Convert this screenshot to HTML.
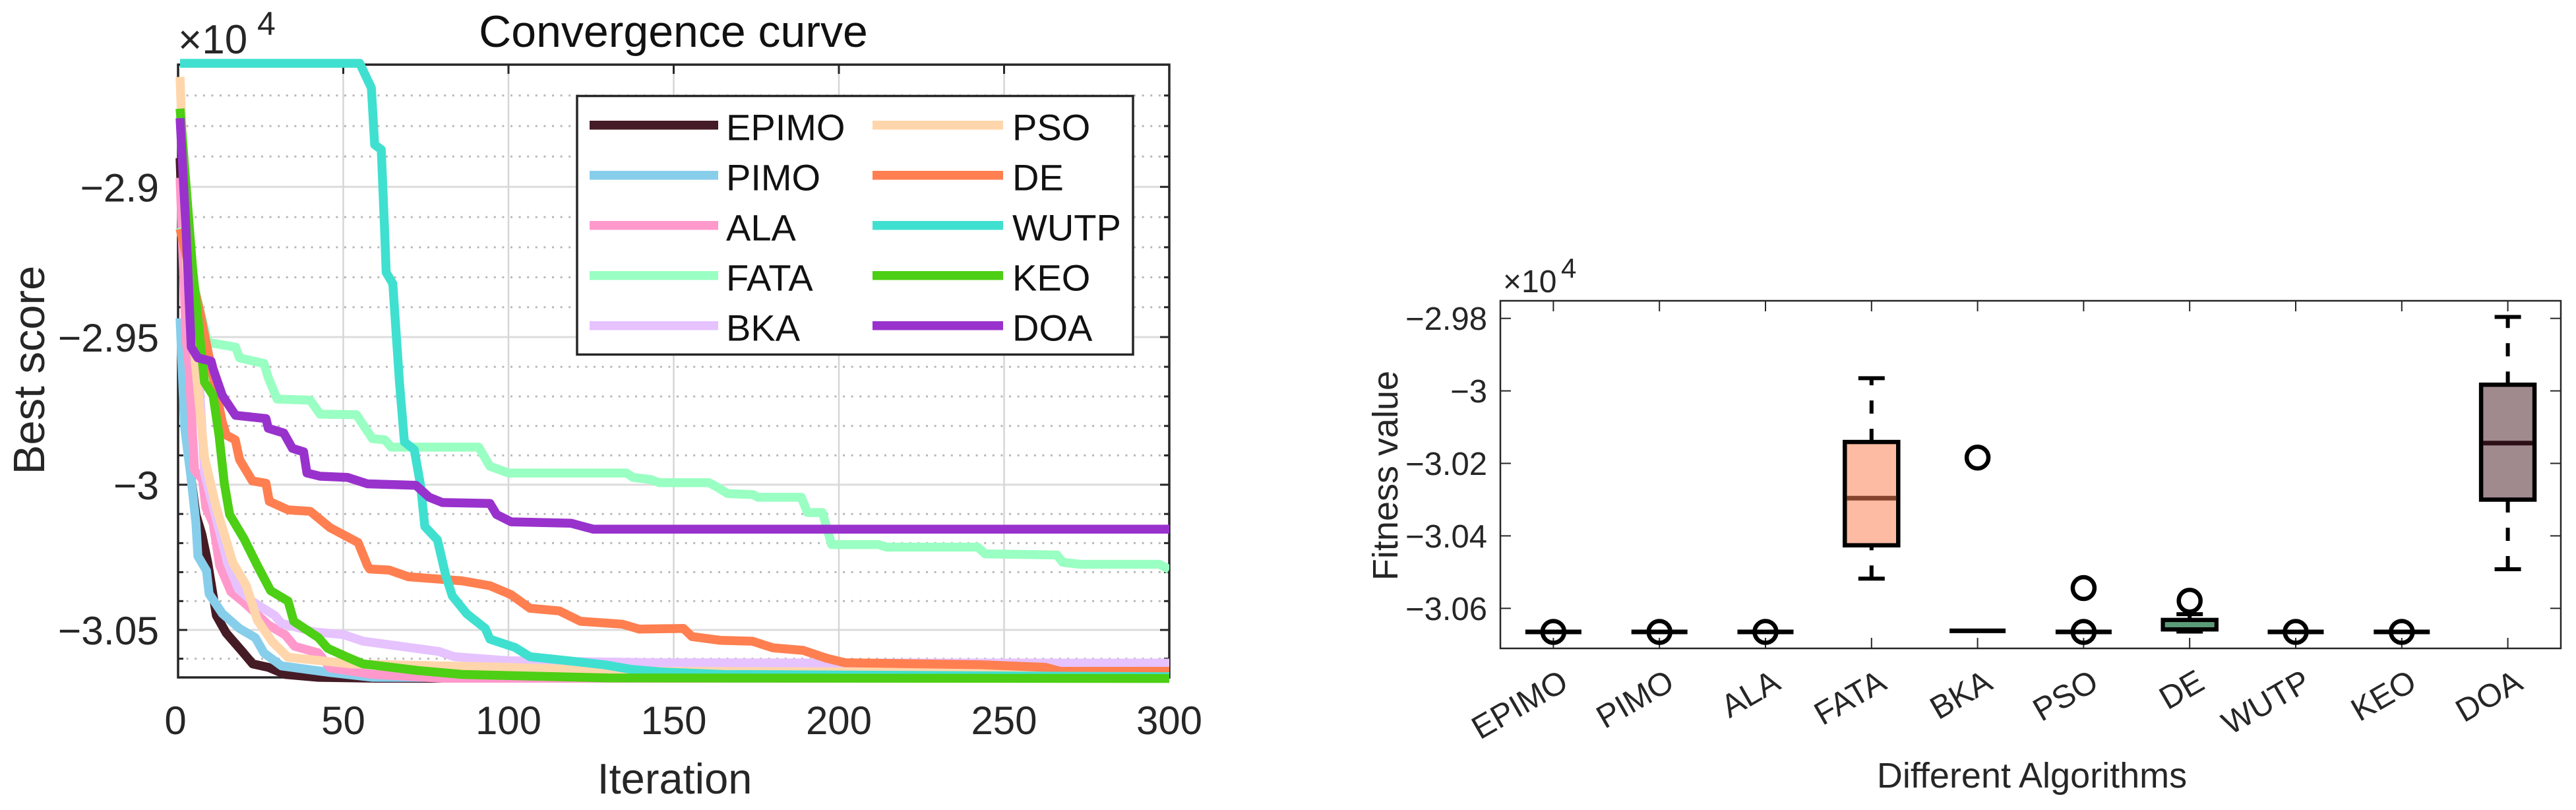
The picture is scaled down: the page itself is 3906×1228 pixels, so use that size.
<!DOCTYPE html>
<html lang="en">
<head>
<meta charset="utf-8">
<title>Convergence curve and fitness boxplot</title>
<style>
html,body{margin:0;padding:0;background:#fff;}
svg{display:block;}
text{font-family:"Liberation Sans",Arial,sans-serif;}
</style>
</head>
<body>
<svg id="figure" xmlns="http://www.w3.org/2000/svg" width="3906" height="1228" viewBox="0 0 3906 1228">
  <rect x="0" y="0" width="3906" height="1228" fill="#ffffff"/>
  <defs>
    <clipPath id="plot-clip"><rect x="255" y="88" width="1518" height="950"/></clipPath>
  </defs>
  <g id="left-chart"></g>
  <g id="right-chart"></g>
</svg>
<script>
/* ---------- Convergence chart data (score in units of 1e4) ---------- */
const algorithmNames = ['EPIMO','PIMO','ALA','FATA','BKA','PSO','DE','WUTP','KEO','DOA'];
const seriesColors = ['#451b26','#87ceeb','#ff99cc','#99ffc2','#e6c2ff','#ffd6ab','#ff7f50','#40e0d0','#4ccf14','#9932cc'];
const iterationTicks = [0,50,100,150,200,250,300];
const scoreTicks = [-2.9,-2.95,-3,-3.05];
const scoreTickLabels = ['\u22122.9','\u22122.95','\u22123','\u22123.05'];
const minorScoreTicks = [-2.87,-2.88,-2.89,-2.91,-2.92,-2.93,-2.94,-2.96,-2.97,-2.98,-2.99,-3.01,-3.02,-3.03,-3.04,-3.06];

const epimoIter  = [0.6,2.5,4,5.4,7.2,9,11.6,14.6,19.3,22.6,27.3,32.5,42.5,60,300];
const epimoScore = [-2.8905,-2.95,-2.9982,-3.0102,-3.017,-3.0268,-3.045,-3.0511,-3.0573,-3.0618,-3.063,-3.0655,-3.0665,-3.0668,-3.0668];

const pimoIter  = [0.6,2,4,5.4,6,8.6,9.4,13.4,18.6,23.4,26,31.3,46,59,300];
const pimoScore = [-2.9437,-2.9806,-2.9982,-3.0132,-3.0245,-3.0295,-3.0375,-3.0443,-3.0495,-3.0527,-3.058,-3.0625,-3.0648,-3.0665,-3.0668];

const alaIter  = [0.6,2.4,3.4,4.4,5,7.4,8.4,10.6,12.6,16,20,27.3,32.5,35.3,42.5,46,59,80,300];
const alaScore = [-2.897,-2.9502,-2.9607,-2.9831,-2.9951,-2.9982,-3.0078,-3.0132,-3.0277,-3.0368,-3.0405,-3.0482,-3.0518,-3.0557,-3.058,-3.0632,-3.0655,-3.0668,-3.0668];

const fataIter  = [0.6,9,17.4,18.6,26,27.3,30,40,43,54,58.8,62.6,64.5,91,94.4,100,135.7,137.7,143,145.7,160.7,163,166.3,174,175.5,188.6,190.5,195,197.8,212,214.4,242,244.3,266,267.7,273,297,300];
const fataScore = [-2.9135,-2.9518,-2.9534,-2.957,-2.9589,-2.9637,-2.9709,-2.9713,-2.976,-2.9762,-2.9843,-2.9847,-2.9872,-2.9872,-2.9937,-2.996,-2.996,-2.9975,-2.9982,-2.9993,-2.9993,-3.0007,-3.003,-3.0034,-3.0043,-3.0043,-3.0095,-3.0095,-3.0205,-3.0205,-3.0214,-3.0214,-3.0237,-3.0241,-3.0266,-3.0273,-3.0273,-3.0291];

const bkaIter  = [0.6,3.4,6.4,8,15,18.3,23,29.3,31.3,41.3,50,56,79,83.6,100,145.7,200,300];
const bkaScore = [-2.8774,-2.9174,-2.9652,-2.996,-3.0268,-3.0359,-3.0405,-3.045,-3.0477,-3.0507,-3.0516,-3.0539,-3.0575,-3.0593,-3.0607,-3.0614,-3.0615,-3.0615];

const psoIter  = [0.6,2.6,5.4,8,11.4,16.6,20.6,24,28.5,33.3,52.5,100,140,200,250,267,300];
const psoScore = [-2.8639,-2.9255,-2.9607,-2.9906,-3.0071,-3.0268,-3.0345,-3.0466,-3.0541,-3.0595,-3.0618,-3.063,-3.0644,-3.0646,-3.0648,-3.0657,-3.0661];

const deIter  = [0.6,6.6,13.4,14.6,17.3,18.6,22.5,26.6,27.6,33.3,40,46,54.5,57.3,58,63.9,69.7,86,94.4,100.8,106.5,115.4,121.8,134.5,139.5,153,155.5,164,173.8,180,189.2,196.2,201.8,243,262.5,267,300];
const deScore = [-2.9139,-2.9415,-2.9787,-2.9831,-2.9847,-2.9914,-2.9987,-2.9995,-3.0057,-3.0086,-3.0091,-3.0147,-3.0198,-3.0277,-3.0289,-3.0293,-3.0316,-3.033,-3.0347,-3.0378,-3.0425,-3.0434,-3.047,-3.048,-3.0497,-3.0495,-3.0523,-3.0536,-3.0539,-3.0562,-3.0571,-3.0598,-3.0614,-3.0621,-3.063,-3.0644,-3.0644];

const wutpIter  = [0.6,55,58.5,59.5,61.5,62.5,63,65,67,68.5,71.5,73.4,74.7,78.5,81,83,87.4,93,94.4,102,106.5,118,129,137,146,165,300];
const wutpScore = [-2.8595,-2.8595,-2.8675,-2.8861,-2.8877,-2.9139,-2.9284,-2.9321,-2.9652,-2.9854,-2.9881,-3.0002,-3.0143,-3.0189,-3.0311,-3.0382,-3.0444,-3.0495,-3.0532,-3.0561,-3.0593,-3.0607,-3.0621,-3.0637,-3.0646,-3.0655,-3.0663];

const keoIter  = [0.6,4.4,8,10.6,12.4,14,15.6,20,24,28,33.3,35,42.5,45.3,51.3,56,72.5,86,130,300];
const keoScore = [-2.8743,-2.927,-2.9652,-2.9697,-2.9831,-2.9995,-3.0102,-3.0186,-3.0277,-3.0364,-3.04,-3.047,-3.0527,-3.0564,-3.0595,-3.0618,-3.0641,-3.0655,-3.0667,-3.0669];

const doaIter  = [0.6,2.4,4,6,10,10.6,13.4,17.4,26.6,27.3,32,34.6,38,39,43,51.3,57.3,72,76,80,94.4,96.4,100.8,119,125.6,300];
const doaScore = [-2.8774,-2.9139,-2.9534,-2.957,-2.9581,-2.9607,-2.9697,-2.9764,-2.9775,-2.9808,-2.9824,-2.9876,-2.9888,-2.996,-2.9971,-2.9975,-2.9997,-3.0002,-3.0043,-3.0061,-3.0064,-3.0102,-3.0127,-3.0132,-3.0152,-3.0152];

const seriesIters  = [epimoIter,pimoIter,alaIter,fataIter,bkaIter,psoIter,deIter,wutpIter,keoIter,doaIter];
const seriesScores = [epimoScore,pimoScore,alaScore,fataScore,bkaScore,psoScore,deScore,wutpScore,keoScore,doaScore];

/* ---------- Boxplot data (fitness in units of 1e4) ---------- */
const fitnessTicks = [-2.98,-3,-3.02,-3.04,-3.06];
const fitnessTickLabels = ['\u22122.98','\u22123','\u22123.02','\u22123.04','\u22123.06'];
const boxUpperQuartile = [-3.0665,-3.0665,-3.0665,-3.0141,-3.0662,-3.0665,-3.0632,-3.0665,-3.0665,-2.9983];
const boxMedian        = [-3.0665,-3.0665,-3.0665,-3.0296,-3.0662,-3.0665,-3.0645,-3.0665,-3.0665,-3.0144];
const boxLowerQuartile = [-3.0665,-3.0665,-3.0665,-3.0426,-3.0662,-3.0665,-3.0658,-3.0665,-3.0665,-3.03];
const whiskerHigh      = [-3.0665,-3.0665,-3.0665,-2.9965,-3.0662,-3.0665,-3.0616,-3.0665,-3.0665,-2.9796];
const whiskerLow       = [-3.0665,-3.0665,-3.0665,-3.0518,-3.0662,-3.0665,-3.0664,-3.0665,-3.0665,-3.0492];
const outlierValues    = [[-3.0665],[-3.0665],[-3.0665],[],[-3.0184],[-3.0665,-3.0544],[-3.0579],[-3.0665],[-3.0665],[]];
const boxFills    = ['#ffffff','#ffffff','#ffffff','#fdbba3','#ffffff','#ffffff','#74b08e','#ffffff','#ffffff','#a08a8e'];
const medianColors = ['#000000','#000000','#000000','#84432c','#000000','#000000','#5a9c78','#000000','#000000','#2c0f17'];

/* ---------- Helpers ---------- */
const NS = 'http://www.w3.org/2000/svg';
const INK = '#262626';
function make(tag, parent, geometry) {
  const el = document.createElementNS(NS, tag);
  for (const k in geometry) el.setAttribute(k, geometry[k]);
  parent.appendChild(el);
  return el;
}

/* Axis functions: left chart */
function xIter(i) { return 270 + i * (1773 - 270) / 300; }
function yScore(v) { return 283.3 + 30670 * Math.log10(v / -2.9); }
/* Axis functions: right chart */
function xCat(i) { return 2275 + (i + 0.5) * (3883 - 2275) / 10; }
function yFit(v) { return 482.7 + (-2.98 - v) * 5495; }

/* ---------- Draw left chart ---------- */
(function () {
  const g = document.getElementById('left-chart');
  const L = 270, R = 1773, T = 98, B = 1027;

  minorScoreTicks.forEach(function (v) {
    const line = make('line', g, {x1:L, x2:R, y1:yScore(v), y2:yScore(v), stroke:'#b8b8b8', 'stroke-width':3, 'stroke-dasharray':'3 9.6'});
    
    
  });
  scoreTicks.forEach(function (v) {
    const line = make('line', g, {x1:L, x2:R, y1:yScore(v), y2:yScore(v), stroke:'#dcdcdc', 'stroke-width':3});
    
    
  });
  iterationTicks.slice(1, -1).forEach(function (t) {
    const line = make('line', g, {x1:xIter(t), x2:xIter(t), y1:T, y2:B, stroke:'#d6d6d6', 'stroke-width':2.5});
    
    
  });

  const frame = make('rect', g, {x:L, y:T, width:R-L, height:B-T, fill:'none', stroke:INK, 'stroke-width':3.5});
  
  

  iterationTicks.forEach(function (t, i) {
    const top = make('line', g, {x1:xIter(t), x2:xIter(t), y1:T, y2:T+14, stroke:INK, 'stroke-width':3});
    
    
    const bottom = make('line', g, {x1:xIter(t), x2:xIter(t), y1:B, y2:B-14, stroke:INK, 'stroke-width':3});
    
    
    const label = make('text', g, {x:xIter(t) - (i === 0 ? 4 : 0), y:1113, 'text-anchor':'middle', 'font-size':60, fill:INK});
    
    
    label.textContent = String(t);
  });
  scoreTicks.forEach(function (v, i) {
    const a = make('line', g, {x1:L, x2:L+14, y1:yScore(v), y2:yScore(v), stroke:INK, 'stroke-width':3});
    
    
    const b = make('line', g, {x1:R, x2:R-14, y1:yScore(v), y2:yScore(v), stroke:INK, 'stroke-width':3});
    
    
    const label = make('text', g, {x:241, y:yScore(v) + 22, 'text-anchor':'end', 'font-size':60.5, fill:INK});
    
    
    label.textContent = scoreTickLabels[i];
  });
  minorScoreTicks.forEach(function (v) {
    const a = make('line', g, {x1:L, x2:L+8, y1:yScore(v), y2:yScore(v), stroke:INK, 'stroke-width':3});
    
    
    const b = make('line', g, {x1:R, x2:R-8, y1:yScore(v), y2:yScore(v), stroke:INK, 'stroke-width':3});
    
    
  });

  const curves = make('g', g, {'clip-path':'url(#plot-clip)'});
  
  
  algorithmNames.forEach(function (name, s) {
    const pts = seriesIters[s].map(function (t, j) {
      return xIter(t).toFixed(1) + ',' + yScore(seriesScores[s][j]).toFixed(1);
    }).join(' ');
    const line = make('polyline', curves, {points:pts, fill:'none', stroke:seriesColors[s], 'stroke-width':13.5, 'stroke-linejoin':'round', 'stroke-linecap':'butt'});
    
    
  });

  const title = make('text', g, {x:1021, y:71, 'text-anchor':'middle', 'font-size':68, fill:'#111111'});
  
  
  title.textContent = 'Convergence curve';

  const xTitle = make('text', g, {x:1023, y:1203, 'text-anchor':'middle', 'font-size':65, fill:INK});
  
  
  xTitle.textContent = 'Iteration';

  const yTitle = make('text', g, {x:0, y:0, transform:'translate(67,561) rotate(-90)', 'text-anchor':'middle', 'font-size':67, fill:INK});
  
  
  yTitle.textContent = 'Best score';

  const expBase = make('text', g, {x:270, y:81, 'font-size':62, fill:INK});
  
  
  expBase.textContent = '\u00d710';
  const expPow = make('text', g, {x:390, y:53, 'font-size':50, fill:INK});
  
  
  expPow.textContent = '4';

  const legend = make('g', g, {});
  
  
  const box = make('rect', legend, {x:875, y:145.5, width:843, height:392, fill:'#ffffff', stroke:INK, 'stroke-width':3.5});
  
  
  const rowStart = 189.7, rowStep = 76;
  algorithmNames.forEach(function (name, s) {
    const col = s < 5 ? 0 : 1;
    const row = s % 5;
    const ly = rowStart + row * rowStep;
    const entry = make('g', legend, {});
    
    
    const sw = make('line', entry, {x1:col ? 1323 : 894, x2:col ? 1521 : 1089, y1:ly, y2:ly, stroke:seriesColors[s], 'stroke-width':13.5});
    
    
    const tx = make('text', entry, {x:col ? 1535 : 1101, y:ly + 23, 'font-size':56, fill:'#111111'});
    
    
    tx.textContent = name;
  });
})();

/* ---------- Draw right chart ---------- */
(function () {
  const g = document.getElementById('right-chart');
  const L = 2275, R = 3883, T = 456, B = 983;

  const frame = make('rect', g, {x:L, y:T, width:R-L, height:B-T, fill:'#ffffff', stroke:INK, 'stroke-width':2.5});
  
  

  fitnessTicks.forEach(function (v, i) {
    const a = make('line', g, {x1:L, x2:L+16, y1:yFit(v), y2:yFit(v), stroke:INK, 'stroke-width':2});
    
    
    const b = make('line', g, {x1:R, x2:R-16, y1:yFit(v), y2:yFit(v), stroke:INK, 'stroke-width':2});
    
    
    const label = make('text', g, {x:2255, y:yFit(v) + 17.5, 'text-anchor':'end', 'font-size':49, fill:INK});
    
    
    label.textContent = fitnessTickLabels[i];
  });

  algorithmNames.forEach(function (name, i) {
    const x = xCat(i);
    const top = make('line', g, {x1:x, x2:x, y1:T, y2:T+16, stroke:INK, 'stroke-width':2});
    
    
    const bottom = make('line', g, {x1:x, x2:x, y1:B, y2:B-16, stroke:INK, 'stroke-width':2});
    
    
    const label = make('text', g, {x:0, y:0, transform:'translate(' + (x + 25.5) + ',1043) rotate(-30)', 'text-anchor':'end', 'font-size':49, fill:INK});
    
    
    label.textContent = name;

    const group = make('g', g, {});
    
    

    const yHi = yFit(whiskerHigh[i]), yLo = yFit(whiskerLow[i]);
    const yQ3 = yFit(boxUpperQuartile[i]), yQ1 = yFit(boxLowerQuartile[i]), yMed = yFit(boxMedian[i]);
    const flat = (yQ1 - yQ3) < 0.5;

    const upper = make('line', group, {x1:x, x2:x, y1:yQ3, y2:yHi, stroke:'#000000', 'stroke-width':6, 'stroke-dasharray':'20 23'});
    
    
    const lower = make('line', group, {x1:x, x2:x, y1:yLo, y2:yQ1, stroke:'#000000', 'stroke-width':6, 'stroke-dasharray':'20 23'});
    
    
    const capHi = make('line', group, {x1:x-20, x2:x+20, y1:yHi, y2:yHi, stroke:'#000000', 'stroke-width':6});
    
    
    const capLo = make('line', group, {x1:x-20, x2:x+20, y1:yLo, y2:yLo, stroke:'#000000', 'stroke-width':6});
    
    
    const rect = make('rect', group, {x:x-40.5, y:yQ3, width:81, height:yQ1-yQ3, fill:boxFills[i], stroke:'#000000', 'stroke-width':6.5});
    
    
    const halfWidth = flat ? 42.5 : 37.5;
    const med = make('line', group, {x1:x-halfWidth, x2:x+halfWidth, y1:yMed, y2:yMed, stroke:medianColors[i], 'stroke-width':flat ? 7 : 7});
    
    
    outlierValues[i].forEach(function (v) {
      const c = make('circle', group, {cx:x, cy:yFit(v), r:16.5, fill:'none', stroke:'#000000', 'stroke-width':6.5});
      
      
    });
  });

  const yTitle = make('text', g, {x:0, y:0, transform:'translate(2119,721) rotate(-90)', 'text-anchor':'middle', 'font-size':54, fill:INK});
  
  
  yTitle.textContent = 'Fitness value';

  const xTitle = make('text', g, {x:3081, y:1194, 'text-anchor':'middle', 'font-size':54, fill:INK});
  
  
  xTitle.textContent = 'Different Algorithms';

  const expBase = make('text', g, {x:2279, y:443, 'font-size':48, fill:INK});
  
  
  expBase.textContent = '\u00d710';
  const expPow = make('text', g, {x:2367, y:421, 'font-size':42, fill:INK});
  
  
  expPow.textContent = '4';
})();
</script>
</body>
</html>
